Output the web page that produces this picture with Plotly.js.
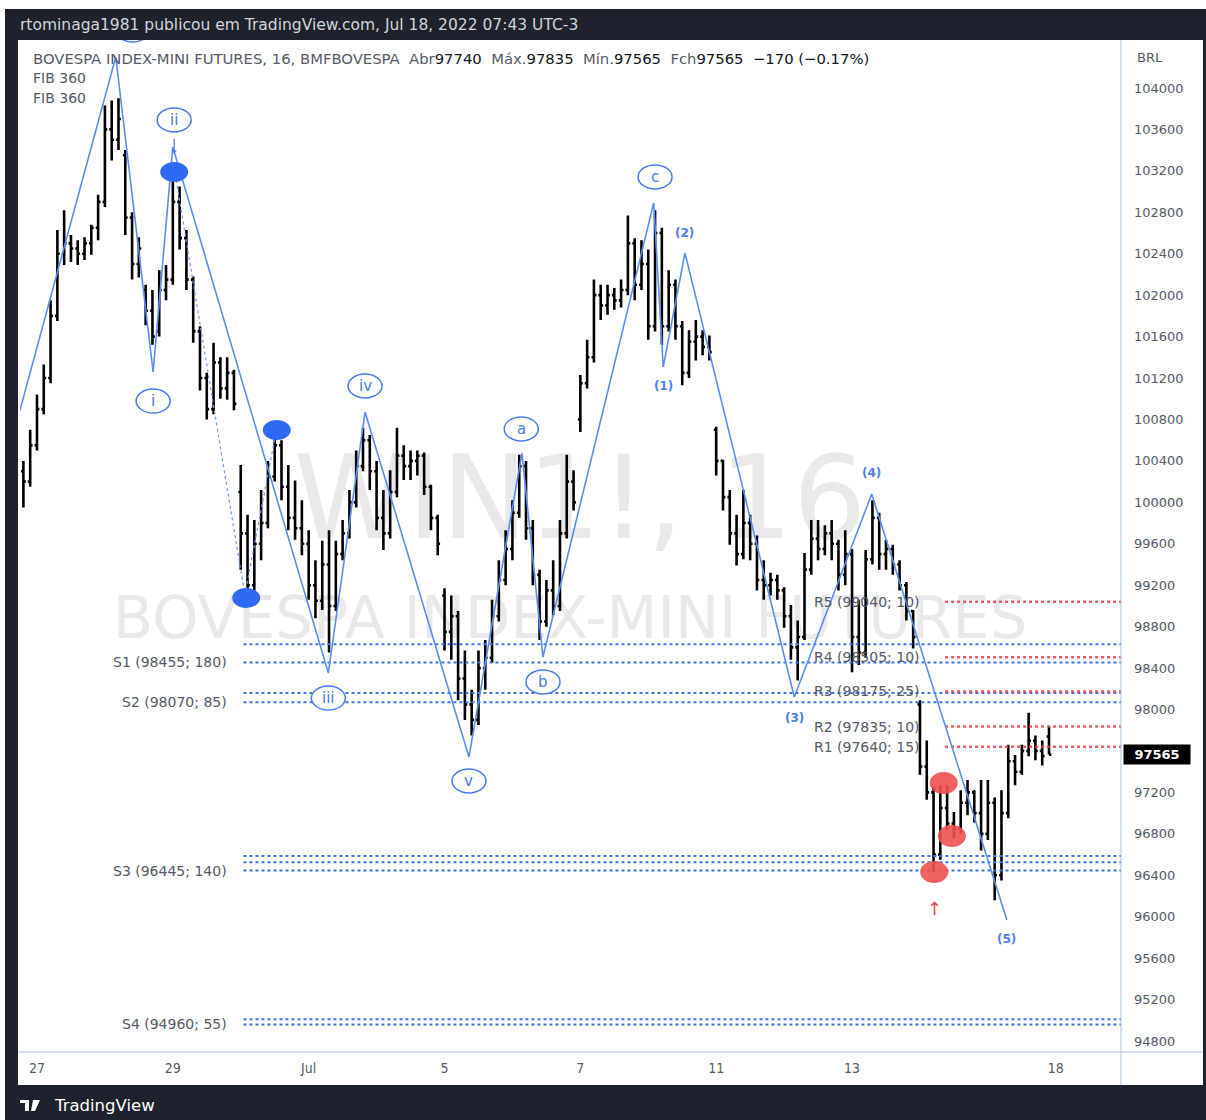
<!DOCTYPE html>
<html><head><meta charset="utf-8">
<script src="https://cdn.plot.ly/plotly-3.0.1.min.js"></script>
<style>html,body{margin:0;padding:0;background:#fff}#chart{width:1206px;height:1120px}</style>
</head><body><div id="chart"></div>
<script>
// ---- OHLC bars (one bar per ~1/10 trading day), Jun 24 (partial) .. Jul 15 ----
const barOpen = [100300,100200,
100550,100900,101200,101800,102400,102500,102450,102400,102500,102650,
102900,103600,103500,103350,102750,102300,102050,101850,101650,102050,
102150,102900,102550,102150,101650,101200,100900,101350,101100,101250,
100100,99700,99200,99600,99800,100250,100550,100150,99850,99750,
99600,99200,99050,99400,99000,99500,99700,100000,100350,100600,
100300,99850,99700,100100,100450,100350,100400,100450,100150,99850,
99100,98750,98900,98300,98050,97900,98400,98500,98900,99250,
99550,99900,100350,99750,99300,98850,99150,99000,99700,100200,
100800,101150,101400,102000,101900,102000,101950,102050,102500,102100,
102300,101700,102600,101700,102100,101700,101250,101550,101600,101500,
100700,100400,100050,99700,99500,99800,99600,99250,99200,99250,
99150,98900,98600,98700,99350,99650,99550,99700,99600,99300,
99500,98700,98550,99450,99850,99500,99550,99400,99200,98950,
98050,97450,97200,96600,97050,96900,96850,97100,97200,97000,
96800,97100,96400,97000,97500,97400,97600,97700,97600,97740];
const barHigh = [100400,100700,
101040,101330,101950,102630,102820,102580,102530,102560,102680,102970,
103830,103880,103900,103400,102800,102560,102100,102050,102240,102290,
103190,103050,102630,102180,101700,101250,101540,101400,101400,101280,
100360,99880,99830,100120,100400,100720,100600,100360,100210,100020,
99730,99440,99630,99730,99630,99830,100120,100500,100720,100650,
100400,100120,100310,100720,100550,100500,100500,100480,100170,99880,
99170,99100,98950,98570,98190,98570,98670,99060,99440,99730,
100020,100460,100400,99830,99350,99250,99440,99830,100460,100310,
101230,101570,102150,102100,102100,102070,102150,102770,102550,102530,
102440,102820,102650,102240,102150,101750,101660,101760,101660,101610,
100730,100410,100120,99880,100120,99880,99680,99440,99320,99300,
99180,99010,98860,99510,99830,99830,99780,99830,99640,99730,
99550,99060,99540,100020,99900,99640,99590,99440,99230,98960,
98090,97700,97250,97270,97270,97010,97220,97320,97220,97320,
97320,97150,97220,97660,97560,97660,97970,97750,97700,97835];
const barLow = [99950,100150,
100500,100850,101150,101750,102290,102320,102290,102340,102390,102530,
102850,103300,103400,102580,102150,102170,101710,101520,101600,101950,
102100,102440,102050,101540,101080,100800,100850,101000,100990,100890,
99350,99100,99150,99440,99750,100200,100020,99730,99640,99490,
99060,98880,98960,98550,98950,99440,99650,99950,100300,100120,
99730,99540,99650,100050,100215,100215,100260,100070,99730,99490,
98570,98480,98090,97900,97750,97850,98190,98450,98850,99200,
99440,99850,99640,99200,98670,98800,98910,98950,99650,99920,
100680,101100,101350,101760,101810,101860,101880,102000,101950,102050,
101570,101650,101520,101650,101570,101130,101200,101370,101420,101370,
100260,99920,99590,99390,99450,99440,99150,99060,99100,99060,
98790,98480,98280,98670,99300,99440,99490,99440,99150,99200,
98360,98430,98500,99400,99350,99350,99300,99150,98860,98590,
97370,97130,96430,96550,96840,96760,96800,96980,96910,96640,
96740,96160,96350,96950,97270,97370,97550,97510,97460,97565];
const barClose = [100200,100550,
100900,101200,101800,102400,102500,102450,102400,102500,102650,102900,
103600,103500,103700,102750,102300,102450,101850,101600,102050,102150,
102900,102550,102150,101650,101200,100900,101350,101100,101250,100950,
99700,99200,99600,99800,100250,100550,100150,99850,99750,99600,
99200,99050,99400,99000,99500,99700,100000,100350,100600,100300,
99850,99700,100100,100450,100350,100400,100450,100150,99850,99600,
98750,98900,98300,98050,97900,98400,98500,98900,99250,99550,
99900,100350,99750,99300,98850,99150,99000,99700,100200,100000,
101150,101400,102000,101900,102000,101950,102050,102500,102100,102300,
101700,102600,101700,102100,101700,101250,101550,101600,101500,101450,
100400,100050,99700,99500,99800,99600,99250,99200,99250,99150,
98900,98600,98700,99350,99650,99550,99700,99600,99300,99500,
98700,98550,99450,99850,99500,99550,99400,99200,98950,98700,
97450,97200,96600,97050,96900,96850,97100,97200,97000,96800,
97100,96400,97000,97500,97400,97600,97700,97600,97550,97565];
const firstBarIndex = -2;

// ---- axes ----
const dayTickIndex = [0, 20, 40, 60, 80, 100, 120, 150];
const dayTickText  = ["27", "29", "Jul", "5", "7", "11", "13", "18"];
// 97600 is hidden behind the last-price label in the reference
const priceTicks = [94800,95200,95600,96000,96400,96800,97200,98000,98400,98800,99200,99600,100000,100400,100800,101200,101600,102000,102400,102800,103200,103600,104000];
const xRange = [-2.5, 159.6];
const yRange = [94694, 104463];

// ---- Elliott wave zigzag ----
const waveX = [-2.5, 11.6, 17.1, 20.0, 42.9, 48.3, 63.6, 71.4, 74.5, 90.8, 92.2, 95.4, 111.5, 122.9, 142.8];
const waveY = [100891, 104299, 101258, 103430, 98353, 100872, 97542, 100476, 98507, 102890, 101306, 102407, 98121, 100080, 95968];
const circleText = ["i", "ii", "iii", "iv", "v", "a", "b", "c"];
const circleX = [17.1, 20.2, 42.9, 48.3, 63.6, 71.3, 74.5, 91.0];
const circleY = [100978, 103691, 98111, 101123, 97310, 100708, 98266, 103141];
const degreeText = ["(1)", "(2)", "(3)", "(4)", "(5)"];
const degreeX = [92.2, 95.3, 111.5, 122.9, 142.8];
const degreeY = [101123, 102600, 97918, 100283, 95785];
const blueDotX = [20.2, 35.3, 30.8];
const blueDotY = [103189, 100698, 99077];
const redDotX = [133.5, 134.7, 132.1];
const redDotY = [97291, 96779, 96432];
const fibX = [20.5, 30.6, 35.2];
const fibY = [103112, 99106, 100679];

// ---- Pivot levels ----
const supportLevels = [98630, 98455, 98160, 98070, 96585, 96525, 96445, 95010, 94960];
const supportText = ["S1 (98455; 180)", "S2 (98070; 85)", "S3 (96445; 140)", "S4 (94960; 55)"];
const supportTextY = [98455, 98070, 96445, 94960];
const resistanceLevels = [99040, 98505, 98175, 97835, 97640];
const resistanceText = ["R5 (99040; 10)", "R4 (98505; 10)", "R3 (98175; 25)", "R2 (97835; 10)", "R1 (97640; 15)"];
const supportStart = 30.4, resistanceStart = 133.7, supportLabelX = 28.2, resistanceLabelX = 114.1;
const lastPrice = 97565;

const barX = barOpen.map((_, i) => firstBarIndex + i);
const BLUE = '#4a7df2', RED = 'rgba(242,60,70,0.85)', GRAY = '#555a66';

function levelTrace(levels, x0, x1, color, w) {
  const xs = [], ys = [];
  levels.forEach(v => { xs.push(x0, x1, null); ys.push(v, v, null); });
  return {type:'scatter', mode:'lines', x: xs, y: ys, hoverinfo:'skip',
          line:{color: color, width: w, dash: 'dot'}};
}

const traces = [
  {type:'ohlc', x: barX, open: barOpen, high: barHigh, low: barLow, close: barClose,
   increasing:{line:{color:'#000', width:2.6}}, decreasing:{line:{color:'#000', width:2.6}},
   tickwidth: 0.35, hoverinfo:'skip'},
  levelTrace(supportLevels, supportStart, xRange[1], '#3f72f0', 2),
  levelTrace(resistanceLevels, resistanceStart, xRange[1], RED, 2.5),
  {type:'scatter', mode:'lines', x: fibX, y: fibY, hoverinfo:'skip', line:{color:'#6f98f5', width:1.2, dash:'dot'}},
  {type:'scatter', mode:'lines', x: waveX, y: waveY, hoverinfo:'skip', line:{color:'#5b8df7', width:1.6}}
];

// paper helpers (plot area: x 20..1121, y 40..1052)
const px = v => (v - 20) / 1101;
const py = v => (1052 - v) / 1012;

const shapes = [
  {type:'rect', xref:'paper', yref:'paper', x0:px(5), x1:px(1206), y0:py(1120), y1:py(9), fillcolor:'#1e222d', line:{width:0}, layer:'below'},
  {type:'rect', xref:'paper', yref:'paper', x0:px(18), x1:px(1203), y0:py(1085), y1:py(40), fillcolor:'#ffffff', line:{width:0}, layer:'below'},
  {type:'rect', xref:'paper', yref:'paper', x0:px(290), x1:px(870), y0:py(545), y1:py(435), fillcolor:'rgba(0,0,0,0)', line:{width:0}, layer:'below',
   label:{text:'WIN1!, 16', textposition:'middle center', font:{family:'DejaVu Sans', size:115, color:'#e9e9ec'}}},
  {type:'rect', xref:'paper', yref:'paper', x0:px(100), x1:px(1040), y0:py(640), y1:py(586), fillcolor:'rgba(0,0,0,0)', line:{width:0}, layer:'below',
   label:{text:'BOVESPA INDEX-MINI FUTURES', textposition:'middle center', font:{family:'DejaVu Sans', size:59, color:'#e9e9ec'}}},
  {type:'line', xref:'paper', yref:'paper', x0:1, x1:1, y0:py(1085), y1:1, line:{color:'#aebcd9', width:1}},
  {type:'line', xref:'paper', yref:'paper', x0:px(18), x1:px(1203), y0:0, y1:0, line:{color:'#aebcd9', width:1}},
  // clipped label at top peak
  {type:'circle', xref:'x', yref:'y', xsizemode:'pixel', ysizemode:'pixel', xanchor:14.1, yanchor:104560, x0:-17, x1:17, y0:-12, y1:12, line:{color:BLUE, width:1.5}, fillcolor:'#fff'},
  // TradingView logo
  {type:'rect', xref:'paper', yref:'paper', x0:px(20), x1:px(29), y0:py(1103), y1:py(1100), fillcolor:'#fff', line:{width:0}},
  {type:'rect', xref:'paper', yref:'paper', x0:px(25), x1:px(29), y0:py(1111), y1:py(1100), fillcolor:'#fff', line:{width:0}},
  {type:'path', xref:'paper', yref:'paper', path:`M ${px(33)} ${py(1100)} L ${px(40)} ${py(1100)} L ${px(35)} ${py(1111)} L ${px(31)} ${py(1111)} Z`, fillcolor:'#fff', line:{width:0}}
];
circleX.forEach((x, i) => shapes.push({type:'circle', xref:'x', yref:'y', xsizemode:'pixel', ysizemode:'pixel',
  xanchor:x, yanchor:circleY[i], x0:-17, x1:17, y0:-12, y1:12, line:{color:BLUE, width:1.5}, fillcolor:'#fff'}));
blueDotX.forEach((x, i) => shapes.push({type:'circle', xref:'x', yref:'y', xsizemode:'pixel', ysizemode:'pixel',
  xanchor:x, yanchor:blueDotY[i], x0:-14, x1:14, y0:-10, y1:10, line:{width:0}, fillcolor:'#2f6af5'}));
redDotX.forEach((x, i) => shapes.push({type:'circle', xref:'x', yref:'y', xsizemode:'pixel', ysizemode:'pixel',
  xanchor:x, yanchor:redDotY[i], x0:-14, x1:14, y0:-11, y1:11, line:{width:0}, fillcolor:'rgba(240,80,80,0.9)'}));

const annotations = [
  {xref:'paper', yref:'paper', x:px(18), y:py(25), xanchor:'left', yanchor:'middle', showarrow:false,
   text:'rtominaga1981 publicou em TradingView.com, Jul 18, 2022 07:43 UTC-3', font:{family:'DejaVu Sans', size:15.5, color:'#d1d4dc'}},
  {xref:'paper', yref:'paper', x:px(31), y:py(58), xanchor:'left', yanchor:'middle', showarrow:false,
   text:"BOVESPA INDEX-MINI FUTURES, 16, BMFBOVESPA&nbsp;&nbsp;Abr<span style='color:#131722'>97740</span>&nbsp;&nbsp;Máx.<span style='color:#131722'>97835</span>&nbsp;&nbsp;Mín.<span style='color:#131722'>97565</span>&nbsp;&nbsp;Fch<span style='color:#131722'>97565</span>&nbsp;&nbsp;<span style='color:#131722'>−170 (−0.17%)</span>",
   font:{family:'DejaVu Sans', size:14.8, color:GRAY}},
  {xref:'paper', yref:'paper', x:px(31), y:py(78), xanchor:'left', yanchor:'middle', showarrow:false, text:'FIB 360', font:{family:'DejaVu Sans', size:14, color:GRAY}},
  {xref:'paper', yref:'paper', x:px(31), y:py(98), xanchor:'left', yanchor:'middle', showarrow:false, text:'FIB 360', font:{family:'DejaVu Sans', size:14, color:GRAY}},
  {xref:'paper', yref:'paper', x:px(1135), y:py(57), xanchor:'left', yanchor:'middle', showarrow:false, text:'BRL', font:{family:'DejaVu Sans', size:13, color:GRAY}},
  {xref:'paper', yref:'y', x:px(1123), y:lastPrice, xanchor:'left', yanchor:'middle', showarrow:false, text:'<b>' + lastPrice + '</b>',
   bgcolor:'#000', width:62, borderpad:2, font:{family:'DejaVu Sans', size:13, color:'#fff'}},
  {xref:'paper', yref:'paper', x:px(52), y:py(1105), xanchor:'left', yanchor:'middle', showarrow:false, text:'TradingView', font:{family:'DejaVu Sans', size:16.5, color:'#ffffff'}},
  {xref:'x', yref:'y', x:132.2, y:96084, showarrow:false, text:'↑', font:{family:'DejaVu Sans', size:18, color:'#f04545'}},
  {xref:'x', yref:'y', x:20.2, y:103370, ax:0, ay:-16, showarrow:true, arrowhead:1, arrowsize:0.8, arrowwidth:1.2, arrowcolor:BLUE, text:''}
];
circleText.forEach((t, i) => annotations.push({xref:'x', yref:'y', x:circleX[i], y:circleY[i], showarrow:false, text:t,
  font:{family:'DejaVu Sans', size:15, color:BLUE}}));
degreeText.forEach((t, i) => annotations.push({xref:'x', yref:'y', x:degreeX[i], y:degreeY[i], showarrow:false, text:'<b>' + t + '</b>',
  font:{family:'DejaVu Sans', size:12, color:BLUE}}));
supportText.forEach((t, i) => annotations.push({xref:'x', yref:'y', x:supportLabelX, y:supportTextY[i], xanchor:'right', showarrow:false, text:t,
  font:{family:'DejaVu Sans', size:14, color:GRAY}}));
resistanceText.forEach((t, i) => annotations.push({xref:'x', yref:'y', x:resistanceLabelX, y:resistanceLevels[i], xanchor:'left', showarrow:false, text:t,
  font:{family:'DejaVu Sans', size:14, color:GRAY}}));

const layout = {
  width:1206, height:1120, margin:{l:20, r:85, t:40, b:68, pad:0},
  paper_bgcolor:'#ffffff', plot_bgcolor:'#ffffff', showlegend:false, hovermode:false,
  xaxis:{range:xRange, tickvals:dayTickIndex, ticktext:dayTickText, showgrid:false, zeroline:false, showline:false, ticks:'',
         ticklabelstandoff:6,
         tickfont:{family:'Liberation Sans Narrow, DejaVu Sans Condensed, sans-serif', size:14, color:GRAY}, rangeslider:{visible:false}, fixedrange:true},
  yaxis:{side:'right', range:yRange, tickvals:priceTicks, ticktext:priceTicks.map(String), showgrid:false, zeroline:false, showline:false, ticks:'',
         ticklabelstandoff:12, tickfont:{family:'DejaVu Sans', size:13, color:GRAY}, fixedrange:true},
  shapes: shapes, annotations: annotations
};
Plotly.newPlot('chart', traces, layout, {staticPlot:true, displayModeBar:false});
</script></body></html>
